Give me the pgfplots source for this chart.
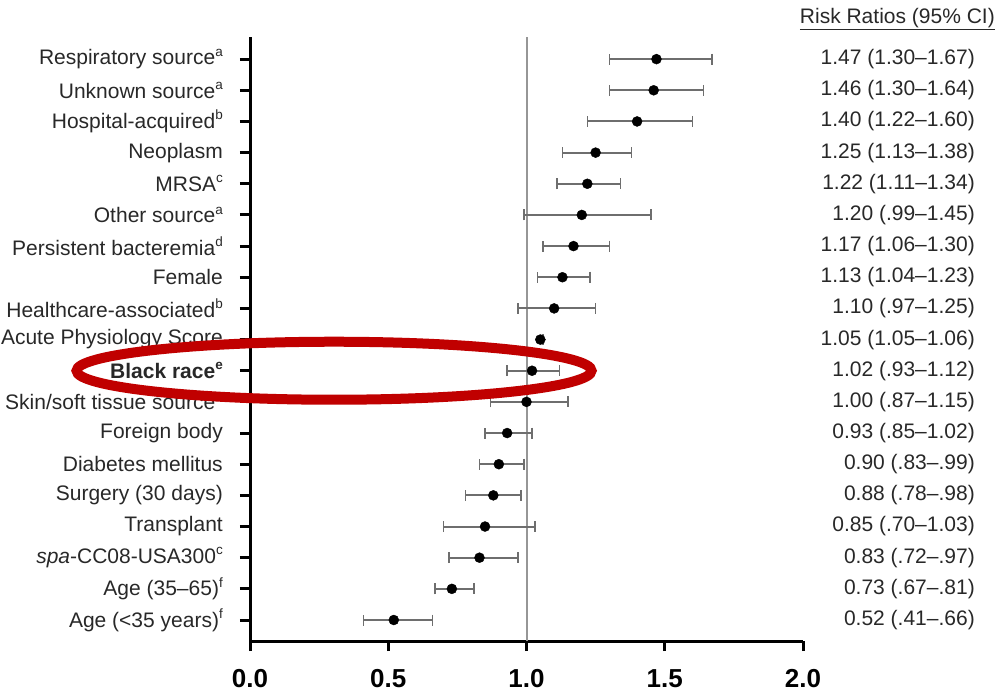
\documentclass[border=0pt]{standalone}
\usepackage{fontspec}
\setmainfont{Liberation Sans}
\usepackage{pgfplots}
\pgfplotsset{compat=1.18}
\usepackage{pgfplotstable}
\definecolor{txt}{RGB}{40,40,40}
\definecolor{errc}{RGB}{110,110,110}
\definecolor{refl}{RGB}{150,150,150}
\definecolor{ell}{RGB}{192,0,0}
\newcommand\sups[1]{\raisebox{0.42em}{\fontsize{13.5}{13.5}\selectfont #1}}

\pgfplotstableread{
row rr lo hi
19 1.47 1.30 1.67
18 1.46 1.30 1.64
17 1.40 1.22 1.60
16 1.25 1.13 1.38
15 1.22 1.11 1.34
14 1.20 0.99 1.45
13 1.17 1.06 1.30
12 1.13 1.04 1.23
11 1.10 0.97 1.25
10 1.05 1.05 1.06
9 1.02 0.93 1.12
8 1.00 0.87 1.15
7 0.93 0.85 1.02
6 0.90 0.83 0.99
5 0.88 0.78 0.98
4 0.85 0.70 1.03
3 0.83 0.72 0.97
2 0.73 0.67 0.81
1 0.52 0.41 0.66
}\rrdata

\begin{document}
\begin{tikzpicture}
\useasboundingbox (0pt,0pt) rectangle (998pt,-694pt);
\begin{axis}[
  at={(250pt,-641pt)}, anchor=south west,
  scale only axis, width=553pt, height=604pt,
  xmin=0, xmax=2, ymin=0.326, ymax=19.71,
  axis x line*=bottom, axis y line*=left,
  axis line style={line width=3pt, black},
  xtick={0,0.5,1,1.5,2},
  ytick={1,...,19},
  yticklabels={
    {Age (<35 years)\sups{f}},
    {Age (35--65)\sups{f}},
    {\textit{spa}-CC08-USA300\sups{c}},
    {Transplant},
    {Surgery (30 days)},
    {Diabetes mellitus},
    {Foreign body},
    {Skin/soft tissue source\sups{a}},
    {\textbf{Black race\sups{e}}},
    {Acute Physiology Score},
    {Healthcare-associated\sups{b}},
    {Female},
    {Persistent bacteremia\sups{d}},
    {Other source\sups{a}},
    {MRSA\sups{c}},
    {Neoplasm},
    {Hospital-acquired\sups{b}},
    {Unknown source\sups{a}},
    {Respiratory source\sups{a}}
  },
  tick align=outside,
  major tick length=10pt,
  tick style={line width=3pt, black},
  yticklabel style={font=\fontsize{21}{24}\selectfont, text=txt, anchor=east, inner sep=0pt, xshift=-17pt},
  xticklabel style={font=\fontsize{26}{28}\selectfont\bfseries, text=black, inner sep=0pt, yshift=-18pt,
     /pgf/number format/fixed, /pgf/number format/fixed zerofill, /pgf/number format/precision=1},
  /pgf/number format/assume math mode=true,
  clip=false,
]
\addplot[refl, line width=2pt] coordinates {(1,0.326) (1,19.71)};
\addplot[only marks, mark=*, mark size=5pt, mark options={fill=black, draw=black},
  error bars/.cd, x dir=both, x explicit,
  error bar style={line width=2pt, errc},
  error mark options={rotate=90, line width=1.6pt, errc, mark size=5.5pt}]
  table[x=rr, y=row,
    x error plus expr=\thisrow{hi}-\thisrow{rr},
    x error minus expr=\thisrow{rr}-\thisrow{lo}] {\rrdata};
\begin{scope}[every node/.style={anchor=east, inner sep=0pt, font=\fontsize{21}{24}\selectfont, text=txt, xshift=172pt}]
\node at (axis cs:2,19) {1.47 (1.30--1.67)};
\node at (axis cs:2,18) {1.46 (1.30--1.64)};
\node at (axis cs:2,17) {1.40 (1.22--1.60)};
\node at (axis cs:2,16) {1.25 (1.13--1.38)};
\node at (axis cs:2,15) {1.22 (1.11--1.34)};
\node at (axis cs:2,14) {1.20 (.99--1.45)};
\node at (axis cs:2,13) {1.17 (1.06--1.30)};
\node at (axis cs:2,12) {1.13 (1.04--1.23)};
\node at (axis cs:2,11) {1.10 (.97--1.25)};
\node at (axis cs:2,10) {1.05 (1.05--1.06)};
\node at (axis cs:2,9) {1.02 (.93--1.12)};
\node at (axis cs:2,8) {1.00 (.87--1.15)};
\node at (axis cs:2,7) {0.93 (.85--1.02)};
\node at (axis cs:2,6) {0.90 (.83--.99)};
\node at (axis cs:2,5) {0.88 (.78--.98)};
\node at (axis cs:2,4) {0.85 (.70--1.03)};
\node at (axis cs:2,3) {0.83 (.72--.97)};
\node at (axis cs:2,2) {0.73 (.67--.81)};
\node at (axis cs:2,1) {0.52 (.41--.66)};
\end{scope}
\draw[ell, line width=10pt] (axis cs:0.304,9) ellipse [x radius=257.5pt, y radius=29pt];
\end{axis}
\node[anchor=east, inner sep=0pt, font=\fontsize{21}{24}\selectfont, text=txt] at (995pt,-19pt) {\underline{Risk Ratios (95\% CI)}};
\end{tikzpicture}
\end{document}
